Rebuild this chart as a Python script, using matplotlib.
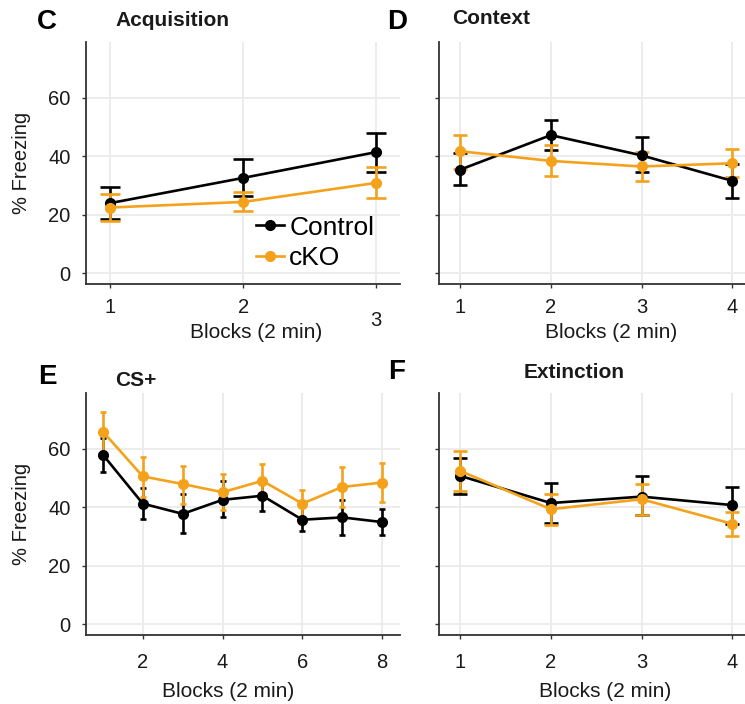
import matplotlib.pyplot as plt
import matplotlib.transforms as mtransforms
from matplotlib.lines import Line2D

plt.rcParams['font.family'] = ['Liberation Sans', 'DejaVu Sans']

# Acquisition (panel C)
acq_x = [1, 2, 3]
acq_ctrl = [24.0, 32.6, 41.4]
acq_ctrl_lo = [18.5, 26.3, 34.6]
acq_ctrl_hi = [29.5, 38.9, 48.0]
acq_cko = [22.5, 24.4, 30.9]
acq_cko_lo = [17.9, 21.2, 25.9]
acq_cko_hi = [27.0, 27.7, 36.3]

# Context (panel D)
ctx_x = [1, 2, 3, 4]
ctx_ctrl = [35.4, 47.2, 40.3, 31.6]
ctx_ctrl_lo = [30.1, 42.1, 34.6, 25.6]
ctx_ctrl_hi = [41.1, 52.2, 46.4, 37.5]
ctx_cko = [41.7, 38.4, 36.5, 37.6]
ctx_cko_lo = [35.8, 33.1, 31.5, 32.8]
ctx_cko_hi = [47.2, 43.9, 41.3, 42.5]

# CS+ (panel E)
cs_x = [1, 2, 3, 4, 5, 6, 7, 8]
cs_ctrl = [58.0, 41.3, 37.8, 42.6, 44.0, 35.8, 36.6, 35.0]
cs_ctrl_lo = [52.0, 36.0, 31.3, 36.9, 38.9, 32.0, 30.7, 30.5]
cs_ctrl_hi = [63.6, 46.6, 44.6, 48.9, 49.4, 40.3, 42.4, 39.4]
cs_cko = [65.9, 50.6, 48.0, 45.2, 49.1, 41.3, 47.0, 48.5]
cs_cko_lo = [59.1, 43.7, 41.3, 39.0, 44.0, 36.9, 40.3, 41.7]
cs_cko_hi = [72.7, 57.4, 54.0, 51.5, 54.7, 46.0, 53.8, 55.3]

# Extinction (panel F)
ext_x = [1, 2, 3, 4]
ext_ctrl = [50.8, 41.5, 43.7, 40.8]
ext_ctrl_lo = [44.6, 34.8, 37.3, 34.5]
ext_ctrl_hi = [57.0, 48.3, 50.6, 47.0]
ext_cko = [52.5, 39.4, 42.8, 34.4]
ext_cko_lo = [45.5, 34.1, 37.3, 30.3]
ext_cko_hi = [59.3, 44.7, 48.1, 38.3]

y_ticks = [0, 20, 40, 60]
group_labels = ['Control', 'cKO']
BLACK = '#000000'
ORANGE = '#F4A21C'
TXT = '#1a1a1a'


def draw_series(ax, x, y, lo, hi, color, capsize):
    err = [[m - l for m, l in zip(y, lo)], [h - m for m, h in zip(y, hi)]]
    ax.errorbar(x, y, yerr=err, color=color, marker='o', markersize=7,
                linewidth=1.9, elinewidth=1.9, capsize=capsize, capthick=1.9)


def style_axes(ax, xlim, xticks, show_ylabels):
    ax.set_xlim(*xlim)
    ax.set_ylim(-3.6, 79)
    ax.set_xticks(xticks)
    ax.set_yticks(y_ticks)
    ax.grid(True, color='#ebebeb', linewidth=1.3)
    ax.set_axisbelow(True)
    for s in ['top', 'right']:
        ax.spines[s].set_visible(False)
    for s in ['left', 'bottom']:
        ax.spines[s].set_color('#333333')
        ax.spines[s].set_linewidth(1.3)
    ax.tick_params(axis='both', colors='#333333', length=3, width=1.0,
                   labelsize=14.5, labelcolor=TXT)
    ax.tick_params(axis='x', pad=7)
    ax.tick_params(axis='y', pad=8)
    if not show_ylabels:
        ax.set_yticklabels([])
    else:
        ax.set_ylabel('% Freezing', fontsize=14.5, color=TXT)
        ax.yaxis.set_label_coords(-0.175, 0.5)


fig = plt.figure(figsize=(7.45, 7.04), dpi=100)

axC = fig.add_axes([0.1154, 0.5966, 0.4215, 0.3438])
axD = fig.add_axes([0.5889, 0.5966, 0.4111, 0.3438])
axE = fig.add_axes([0.1154, 0.098, 0.4215, 0.3433])
axF = fig.add_axes([0.5889, 0.098, 0.4111, 0.3433])

# C
draw_series(axC, acq_x, acq_ctrl, acq_ctrl_lo, acq_ctrl_hi, BLACK, 7)
draw_series(axC, acq_x, acq_cko, acq_cko_lo, acq_cko_hi, ORANGE, 7)
style_axes(axC, (0.818, 3.18), acq_x, True)
axC.set_xticklabels(['1', '2', ''])
trans = mtransforms.blended_transform_factory(axC.transData, axC.transAxes)
axC.text(3, -0.15, '3', transform=trans, ha='center', va='center',
         fontsize=14.5, color=TXT)
axC.set_xlabel('Blocks (2 min)', fontsize=15, color=TXT)
axC.xaxis.set_label_coords(0.541, -0.16)
handles = [Line2D([], [], color=c, marker='o', markersize=7, linewidth=1.9)
           for c in [BLACK, ORANGE]]
axC.legend(handles, group_labels, loc='center left',
           bbox_to_anchor=(0.344, 0.655), bbox_transform=fig.transFigure,
           frameon=False, fontsize=19, handlelength=1.05, handletextpad=0.2,
           labelspacing=0.25, borderpad=0, borderaxespad=0)

# D
draw_series(axD, ctx_x, ctx_ctrl, ctx_ctrl_lo, ctx_ctrl_hi, BLACK, 5)
draw_series(axD, ctx_x, ctx_cko, ctx_cko_lo, ctx_cko_hi, ORANGE, 5)
style_axes(axD, (0.765, 4.14), ctx_x, False)
axD.set_xlabel('Blocks (2 min)', fontsize=15, color=TXT)
axD.xaxis.set_label_coords(0.5626, -0.16)

# E
draw_series(axE, cs_x, cs_ctrl, cs_ctrl_lo, cs_ctrl_hi, BLACK, 2.2)
draw_series(axE, cs_x, cs_cko, cs_cko_lo, cs_cko_hi, ORANGE, 2.2)
style_axes(axE, (0.575, 8.45), [2, 4, 6, 8], True)
axE.tick_params(axis='x', pad=10)
axE.set_xlabel('Blocks (2 min)', fontsize=15, color=TXT)
axE.xaxis.set_label_coords(0.452, -0.195)

# F
draw_series(axF, ext_x, ext_ctrl, ext_ctrl_lo, ext_ctrl_hi, BLACK, 5)
draw_series(axF, ext_x, ext_cko, ext_cko_lo, ext_cko_hi, ORANGE, 5)
style_axes(axF, (0.765, 4.14), ext_x, False)
axF.tick_params(axis='x', pad=10)
axF.set_xlabel('Blocks (2 min)', fontsize=15, color=TXT)
axF.xaxis.set_label_coords(0.543, -0.195)

# panel letters and titles
fig.text(47 / 745, 1 - 22 / 704, 'C', fontsize=20, fontweight='bold', ha='center', va='center')
fig.text(397 / 745, 1 - 22 / 704, 'D', fontsize=20, fontweight='bold', ha='center', va='center')
fig.text(47 / 745, 1 - 377 / 704, 'E', fontsize=20, fontweight='bold', ha='center', va='center')
fig.text(397 / 745, 1 - 372 / 704, 'F', fontsize=20, fontweight='bold', ha='center', va='center')
fig.text(115 / 745, 1 - 20 / 704, 'Acquisition', fontsize=15, fontweight='bold', ha='left', va='center', color=TXT)
fig.text(452 / 745, 1 - 19 / 704, 'Context', fontsize=15, fontweight='bold', ha='left', va='center', color=TXT)
fig.text(115 / 745, 1 - 380 / 704, 'CS+', fontsize=15, fontweight='bold', ha='left', va='center', color=TXT)
fig.text(574 / 745, 1 - 372 / 704, 'Extinction', fontsize=15, fontweight='bold', ha='center', va='center', color=TXT)

fig.savefig('out.png', dpi=100)
